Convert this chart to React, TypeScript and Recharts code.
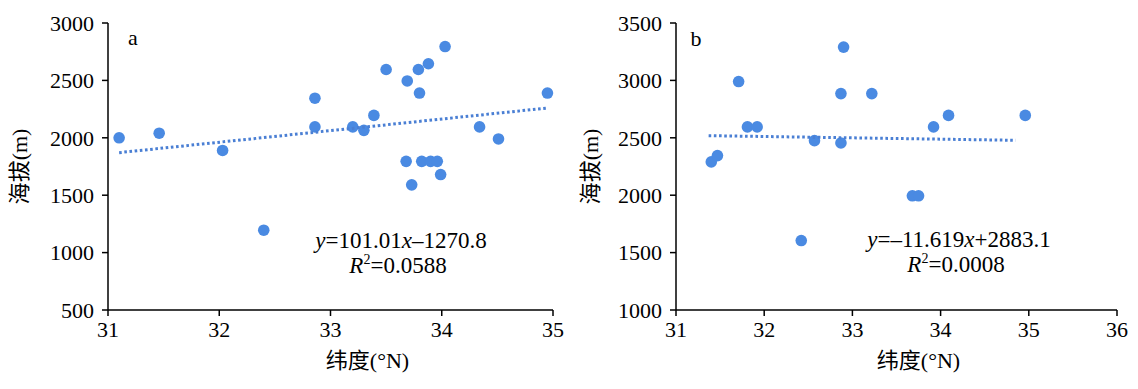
import React from 'react';
import { ScatterChart, Scatter, XAxis, YAxis, Customized } from 'recharts';

// panel a: latitude vs altitude
const latA = [31.1, 31.46, 32.03, 32.4, 32.86, 32.86, 33.2, 33.3, 33.39, 33.5, 33.69, 33.79, 33.88, 33.8, 34.03, 33.68, 33.82, 33.9, 33.96, 33.99, 33.73, 34.34, 34.51, 34.95];
const altA = [2000, 2040, 1890, 1195, 2345, 2095, 2095, 2065, 2195, 2595, 2495, 2595, 2645, 2390, 2795, 1795, 1795, 1795, 1795, 1680, 1590, 2095, 1990, 2390];
// panel b
const latB = [31.4, 31.47, 31.71, 31.81, 31.92, 32.42, 32.57, 32.87, 32.87, 32.9, 33.22, 33.68, 33.75, 33.92, 34.09, 34.96];
const altB = [2290, 2345, 2990, 2595, 2595, 1605, 2475, 2885, 2455, 3290, 2885, 1995, 1995, 2595, 2695, 2695];

const ticksXA = [31, 32, 33, 34, 35];
const ticksYA = [500, 1000, 1500, 2000, 2500, 3000];
const ticksXB = [31, 32, 33, 34, 35, 36];
const ticksYB = [1000, 1500, 2000, 2500, 3000, 3500];

// linear fits shown on the figure
const fitA = { slope: 101.01, intercept: -1270.8, from: 31.1, to: 34.95 };
const fitB = { slope: -11.619, intercept: 2883.1, from: 31.37, to: 34.85 };

const DOT = '#4a8ae2';
const LINE = '#4a7fd4';
const FONT = '"Liberation Serif", "Noto Sans CJK SC", serif';

const toPoints = (xs: number[], ys: number[]) => xs.map((x, i) => ({ x, y: ys[i] }));
const fitPoints = (f: typeof fitA) => [f.from, f.to].map((x) => ({ x, y: f.slope * x + f.intercept }));

const dot = (p: any) => <circle cx={p.cx} cy={p.cy} r={5.8} fill={DOT} />;
const noDot = () => <g />;

const tickStyle = { fontSize: 22, fill: '#000' };
const axisLine = { stroke: '#000', strokeWidth: 1.5 };

interface PanelProps {
  points: { x: number; y: number }[];
  fit: { x: number; y: number }[];
  xTicks: number[];
  yTicks: number[];
  width: number;
  margin: { top: number; right: number; bottom: number; left: number };
  yLabelOffset: number;
  xLabelDx: number;
  letter: string;
  letterPos: [number, number];
  eq: React.ReactNode;
  r2: string;
  eqPos: [number, number];
}

const Panel: React.FC<PanelProps> = (props) => {
  const { points, fit, xTicks, yTicks, width, margin, letter, letterPos, eq, r2, eqPos } = props;
  return (
    <ScatterChart width={width} height={389} margin={margin} style={{ fontFamily: FONT }}>
      <XAxis
        type="number"
        dataKey="x"
        domain={[xTicks[0], xTicks[xTicks.length - 1]]}
        ticks={xTicks}
        height={30}
        tickSize={6}
        tickMargin={5}
        tick={tickStyle}
        axisLine={axisLine}
        tickLine={axisLine}
        label={{ value: '纬度(°N)', position: 'bottom', offset: 12, dx: props.xLabelDx, style: { fontSize: 22, fill: '#000' } }}
      />
      <YAxis
        type="number"
        dataKey="y"
        domain={[yTicks[0], yTicks[yTicks.length - 1]]}
        ticks={yTicks}
        width={100}
        tickSize={6}
        tickMargin={8}
        tick={tickStyle}
        axisLine={axisLine}
        tickLine={axisLine}
        label={{ value: '海拔(m)', angle: -90, position: 'insideLeft', offset: props.yLabelOffset, style: { textAnchor: 'middle', fontSize: 22, fill: '#000' } }}
      />
      <Scatter data={points} shape={dot} isAnimationActive={false} />
      <Scatter
        data={fit}
        shape={noDot}
        line={{ stroke: LINE, strokeWidth: 3, strokeDasharray: '2.6 2.6' }}
        isAnimationActive={false}
      />
      <Customized
        component={() => (
          <g fill="#000">
            <text x={letterPos[0]} y={letterPos[1]} fontSize={22} textAnchor="middle">{letter}</text>
            <text x={eqPos[0]} y={eqPos[1]} fontSize={23} textAnchor="middle">{eq}</text>
            <text x={eqPos[0] - 3} y={eqPos[1] + 25} fontSize={23} textAnchor="middle">
              <tspan fontStyle="italic">R</tspan>
              <tspan fontSize={14} dy={-9}>2</tspan>
              <tspan dy={9}>{r2}</tspan>
            </text>
          </g>
        )}
      />
    </ScatterChart>
  );
};

export default function App() {
  return (
    <div style={{ position: 'absolute', left: 0, top: 0, width: 1138, height: 389, background: '#fff', display: 'flex', fontFamily: FONT }}>
      <Panel
        points={toPoints(latA, altA)}
        fit={fitPoints(fitA)}
        xTicks={ticksXA}
        yTicks={ticksYA}
        width={570}
        margin={{ top: 23, right: 17, bottom: 49, left: 8 }}
        yLabelOffset={11}
        xLabelDx={37}
        letter="a"
        letterPos={[133, 45]}
        eq={<>
          <tspan fontStyle="italic">y</tspan>=101.01<tspan fontStyle="italic">x</tspan>–1270.8
        </>}
        r2="=0.0588"
        eqPos={[401, 248]}
      />
      <Panel
        points={toPoints(latB, altB)}
        fit={fitPoints(fitB)}
        xTicks={ticksXB}
        yTicks={ticksYB}
        width={568}
        margin={{ top: 23, right: 21, bottom: 49, left: 6 }}
        yLabelOffset={14}
        xLabelDx={22}
        letter="b"
        letterPos={[126, 46]}
        eq={<>
          <tspan fontStyle="italic">y</tspan>=–11.619<tspan fontStyle="italic">x</tspan>+2883.1
        </>}
        r2="=0.0008"
        eqPos={[389, 247]}
      />
    </div>
  );
}
